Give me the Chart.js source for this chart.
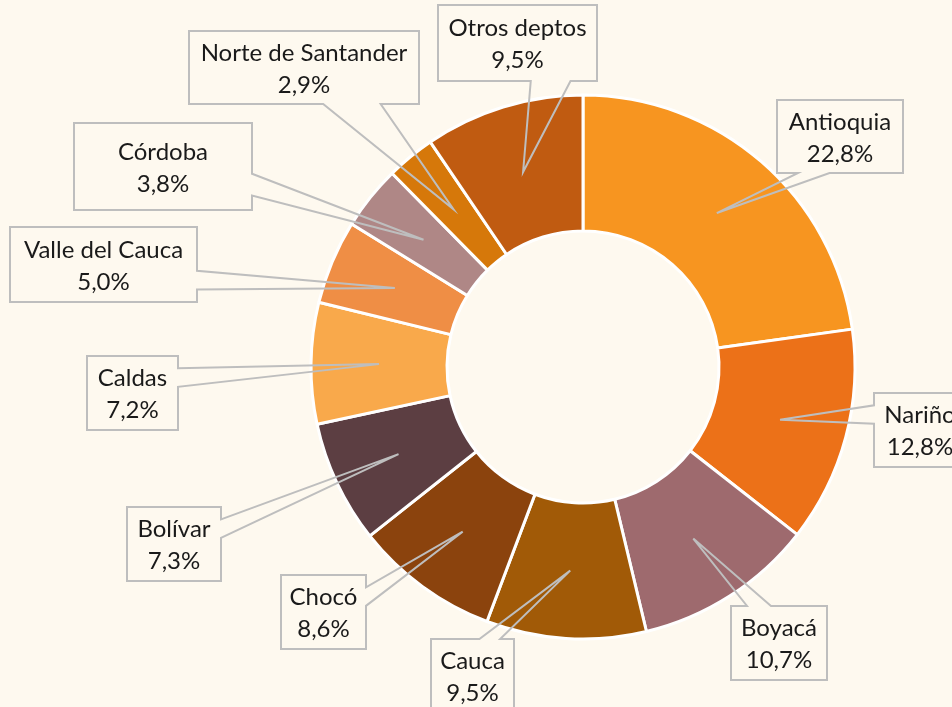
<!DOCTYPE html>
<html>
<head>
<meta charset="utf-8">
<script src="https://cdn.jsdelivr.net/npm/chart.js@4.4.0/dist/chart.umd.min.js"></script>
<style>
    html, body { margin: 0; padding: 0; background: #FEF9EF; }
    #wrap { width: 952px; height: 707px; position: relative; }
</style>
</head>
<body>
<div id="wrap"><canvas id="share-chart"></canvas></div>
<script>
// Participación por departamento (%)
const departments = ['Antioquia', 'Nariño', 'Boyacá', 'Cauca', 'Chocó', 'Bolívar', 'Caldas',
    'Valle del Cauca', 'Córdoba', 'Norte de Santander', 'Otros deptos'];
const shares = [22.8, 12.8, 10.7, 9.5, 8.6, 7.3, 7.2, 5.0, 3.8, 2.9, 9.5];
const sliceColors = ['#F79520', '#EC7118', '#9E6A6E', '#A15A07', '#8B430D', '#5C3E42', '#F9A94B',
    '#EF8E45', '#AF8786', '#D6780A', '#C05B11'];

// label boxes [x, y, w, h]
const labelBoxes = [
    [777, 100, 126, 73],
    [874, 393, 92, 74],
    [731, 606, 96, 74],
    [431, 639, 83, 74],
    [281, 575, 85, 74],
    [127, 507, 94, 74],
    [87, 356, 91, 74],
    [10, 227, 187, 75],
    [74, 123, 178, 87],
    [189, 31, 230, 73],
    [438, 5, 159, 76]
];

function formatPct(v) {
    return v.toFixed(1).replace('.', ',') + '%';
}

// rectangle callout with a wedge pointing to the slice
function calloutPath(ctx, box, ax, ay) {
    const [x, y, w, h] = box;
    const dx = ax - (x + w / 2);
    const dy = ay - (y + h / 2);
    const dz = Math.abs(dy) - Math.abs(dx * h / w);
    let side;
    if (dz > 0) side = dy > 0 ? 'bottom' : 'top';
    else side = dx > 0 ? 'right' : 'left';
    const bx1 = x + w * (dx > 0 ? 7 : 2) / 12, bx2 = x + w * (dx > 0 ? 10 : 5) / 12;
    const by1 = y + h * (dy > 0 ? 7 : 2) / 12, by2 = y + h * (dy > 0 ? 10 : 5) / 12;

    ctx.beginPath();
    ctx.moveTo(x, y);
    if (side === 'top') { ctx.lineTo(bx1, y); ctx.lineTo(ax, ay); ctx.lineTo(bx2, y); }
    ctx.lineTo(x + w, y);
    if (side === 'right') { ctx.lineTo(x + w, by1); ctx.lineTo(ax, ay); ctx.lineTo(x + w, by2); }
    ctx.lineTo(x + w, y + h);
    if (side === 'bottom') { ctx.lineTo(bx2, y + h); ctx.lineTo(ax, ay); ctx.lineTo(bx1, y + h); }
    ctx.lineTo(x, y + h);
    if (side === 'left') { ctx.lineTo(x, by2); ctx.lineTo(ax, ay); ctx.lineTo(x, by1); }
    ctx.closePath();
}

const calloutLabels = {
    id: 'calloutLabels',
    afterDatasetsDraw(chart) {
        const ctx = chart.ctx;
        const meta = chart.getDatasetMeta(0);
        ctx.save();
        meta.data.forEach((arc, i) => {
            const box = labelBoxes[i];
            const p = arc.getCenterPoint();
            ctx.fillStyle = '#FEF9EF';
            ctx.fillRect(box[0], box[1], box[2], box[3]);
            calloutPath(ctx, box, p.x, p.y);
            ctx.strokeStyle = '#BEBEBE';
            ctx.lineWidth = 2;
            ctx.lineJoin = 'miter';
            ctx.stroke();

            const cx = box[0] + box[2] / 2;
            const cy = box[1] + box[3] / 2;
            ctx.fillStyle = '#1A1A1A';
            ctx.font = '24px Lato, sans-serif';
            ctx.textAlign = 'center';
            ctx.textBaseline = 'alphabetic';
            ctx.fillText(departments[i], cx, cy - 7);
            ctx.fillText(formatPct(shares[i]), cx, cy + 25);
        });
        ctx.restore();
    }
};

document.addEventListener('DOMContentLoaded', function () {
    const shareCtx = document.getElementById('share-chart');
    new Chart(shareCtx, {
        type: 'doughnut',
        data: {
            labels: departments,
            datasets: [{
                data: shares,
                backgroundColor: sliceColors,
                borderColor: '#FFFFFF',
                borderWidth: 3
            }]
        },
        options: {
            responsive: true,
            maintainAspectRatio: false,
            animation: false,
            cutout: '50%',
            layout: {
                padding: { left: 309.5, right: 95.5, top: 93.5, bottom: 66.5 }
            },
            plugins: {
                legend: { display: false },
                tooltip: { enabled: false }
            }
        },
        plugins: [calloutLabels]
    });
});
</script>
</body>
</html>
